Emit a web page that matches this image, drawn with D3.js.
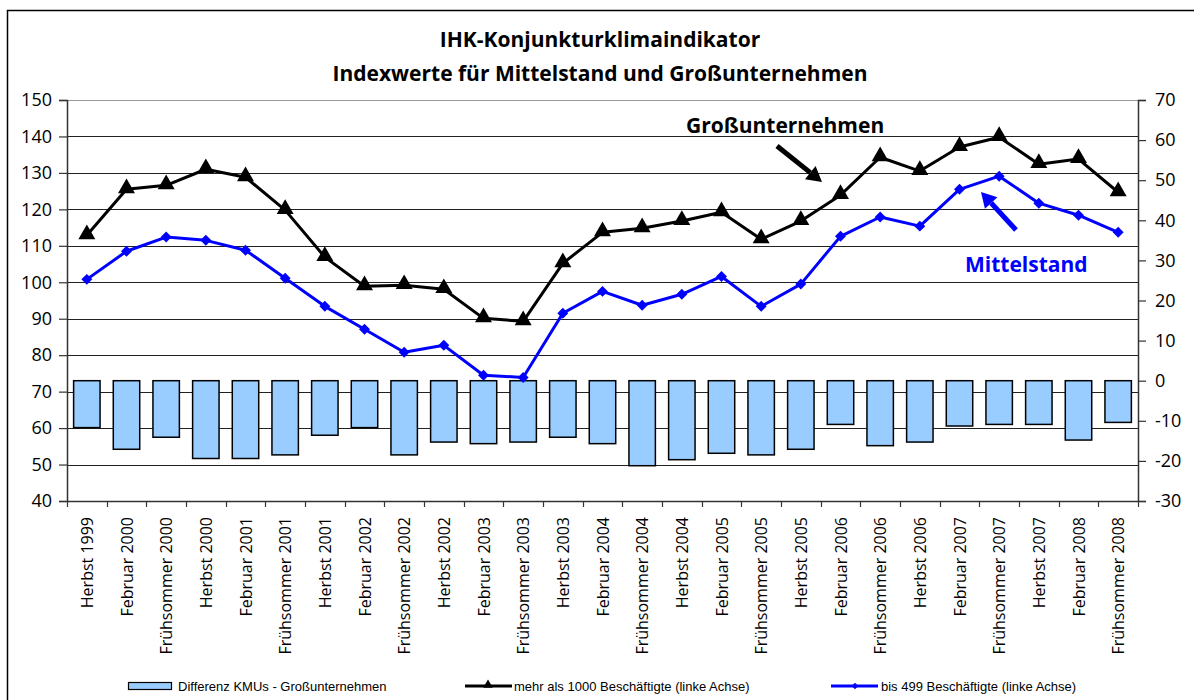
<!DOCTYPE html>
<html>
<head>
<meta charset="utf-8">
<script src="https://cdn.jsdelivr.net/npm/d3@7/dist/d3.min.js"></script>
<style>
  body { margin: 0; background: #fff; }
  svg { display: block; }
</style>
</head>
<body>
<div id="chart"></div>
<script>
// Chart data
const categories = [
  'Herbst 1999', 'Februar 2000', 'Frühsommer 2000', 'Herbst 2000', 'Februar 2001',
  'Frühsommer 2001', 'Herbst 2001', 'Februar 2002', 'Frühsommer 2002', 'Herbst 2002',
  'Februar 2003', 'Frühsommer 2003', 'Herbst 2003', 'Februar 2004', 'Frühsommer 2004',
  'Herbst 2004', 'Februar 2005', 'Frühsommer 2005', 'Herbst 2005', 'Februar 2006',
  'Frühsommer 2006', 'Herbst 2006', 'Februar 2007', 'Frühsommer 2007', 'Herbst 2007',
  'Februar 2008', 'Frühsommer 2008'
];

// mehr als 1000 Beschäftigte (linke Achse)
const grossValues = [
  112.9, 125.5, 126.6, 131.0, 128.8, 119.8, 106.9, 98.9, 99.2, 98.1,
  90.1, 89.3, 105.2, 113.7, 114.8, 116.8, 119.2, 111.8, 116.8, 123.9,
  134.3, 130.5, 137.1, 139.8, 132.4, 133.8, 124.7
];

// bis 499 Beschäftigte (linke Achse)
const mittelValues = [
  100.8, 108.5, 112.4, 111.5, 108.8, 101.1, 93.4, 87.1, 80.8, 82.7,
  74.5, 73.9, 91.5, 97.5, 93.7, 96.7, 101.6, 93.4, 99.5, 112.6,
  117.9, 115.4, 125.5, 129.1, 121.7, 118.4, 113.7
];

// Differenz KMUs - Großunternehmen (rechte Achse)
const diffValues = [
  -11.7, -17.1, -14.1, -19.4, -19.4, -18.5, -13.6, -11.7, -18.5, -15.3,
  -15.7, -15.3, -14.1, -15.7, -21.2, -19.7, -18.1, -18.5, -17.1, -10.9,
  -16.2, -15.3, -11.3, -10.9, -10.9, -14.8, -10.4
];

const leftTicks = d3.range(40, 151, 10);
const rightTicks = d3.range(-30, 71, 10);

const titleLines = ['IHK-Konjunkturklimaindikator', 'Indexwerte für Mittelstand und Großunternehmen'];
const legendLabels = [
  'Differenz KMUs - Großunternehmen',
  'mehr als 1000 Beschäftigte (linke Achse)',
  'bis 499 Beschäftigte (linke Achse)'
];

// Annotation labels with arrows
const annotations = [
  { text: 'Großunternehmen', color: '#000', x: 686, y: 133, from: [777, 146], to: [822, 182] },
  { text: 'Mittelstand', color: '#0000ff', x: 965, y: 272, from: [1016, 230], to: [981, 192] }
];

const width = 1194;
const height = 700;
const margin = { top: 100, right: 1194 - 1138, bottom: 700 - 501, left: 67 };
const innerW = width - margin.left - margin.right;
const innerH = height - margin.top - margin.bottom;

const uiFont = '"Open Sans", "DejaVu Sans", sans-serif';
const legendFont = '"Liberation Sans", Arial, sans-serif';

const svg = d3.select('#chart')
  .append('svg')
  .attr('width', width)
  .attr('height', height);

// Outer frame
svg.append('rect')
  .attr('x', 7.5)
  .attr('y', 10.5)
  .attr('width', 1300)
  .attr('height', 1000)
  .attr('fill', 'none')
  .attr('stroke', '#000')
  .attr('stroke-width', 1.5);

// Title
svg.selectAll('.title')
  .data(titleLines)
  .enter()
  .append('text')
  .attr('class', 'title')
  .attr('x', 600)
  .attr('y', (d, i) => 47 + i * 34)
  .attr('text-anchor', 'middle')
  .style('font-family', uiFont)
  .style('font-size', '21px')
  .style('font-weight', 'bold')
  .text(d => d);

const g = svg.append('g')
  .attr('transform', `translate(${margin.left},${margin.top})`);

// Scales
const x = d3.scaleBand()
  .domain(categories)
  .range([0, innerW])
  .paddingInner(1 / 3)
  .paddingOuter(1 / 6);

const xCenter = d => x(d) + x.bandwidth() / 2;
const step = x.step();

const yLeft = d3.scaleLinear().domain([40, 150]).range([innerH, 0]);
const yRight = d3.scaleLinear().domain([-30, 70]).range([innerH, 0]);

// Gridlines (left axis)
g.selectAll('.grid')
  .data(leftTicks.filter(t => t > 40))
  .enter()
  .append('line')
  .attr('class', 'grid')
  .attr('x1', 0)
  .attr('x2', innerW)
  .attr('y1', d => Math.round(yLeft(d)) + 0.5)
  .attr('y2', d => Math.round(yLeft(d)) + 0.5)
  .attr('stroke', d => d === 150 ? '#999' : '#222')
  .attr('stroke-width', 1);

// Bars (right axis)
g.selectAll('.bar')
  .data(diffValues)
  .enter()
  .append('rect')
  .attr('class', 'bar')
  .attr('x', (d, i) => x(categories[i]))
  .attr('width', x.bandwidth())
  .attr('y', d => yRight(Math.max(0, d)))
  .attr('height', d => Math.abs(yRight(d) - yRight(0)))
  .attr('fill', '#99ccff')
  .attr('stroke', '#000')
  .attr('stroke-width', 1.5);

// Left axis
const leftAxis = g.append('g')
  .call(d3.axisLeft(yLeft).tickValues(leftTicks).tickSize(8).tickPadding(7));

// Right axis
const rightAxis = g.append('g')
  .attr('transform', `translate(${innerW},0)`)
  .call(d3.axisRight(yRight).tickValues(rightTicks).tickSize(8).tickPadding(9)
    .tickFormat(d => String(d)));

[leftAxis, rightAxis].forEach(a => {
  a.select('.domain').attr('stroke', '#333').attr('stroke-width', 1.5);
  a.selectAll('.tick line').attr('stroke', '#333').attr('stroke-width', 1.2);
  a.selectAll('.tick text')
    .style('font-family', uiFont)
    .style('font-size', '18px')
    .attr('fill', '#000');
});

// Bottom axis with ticks at band boundaries
const bottom = g.append('g')
  .attr('transform', `translate(0,${innerH})`);

bottom.append('line')
  .attr('x1', 0).attr('x2', innerW)
  .attr('y1', 0.5).attr('y2', 0.5)
  .attr('stroke', '#333')
  .attr('stroke-width', 1.5);

bottom.selectAll('.xtick')
  .data(d3.range(categories.length + 1))
  .enter()
  .append('line')
  .attr('class', 'xtick')
  .attr('x1', i => Math.round(i * step) + 0.5)
  .attr('x2', i => Math.round(i * step) + 0.5)
  .attr('y1', 0)
  .attr('y2', 6)
  .attr('stroke', '#333')
  .attr('stroke-width', 1.2);

bottom.selectAll('.xlabel')
  .data(categories)
  .enter()
  .append('text')
  .attr('class', 'xlabel')
  .attr('transform', d => `translate(${xCenter(d) + 6},16) rotate(-90)`)
  .attr('text-anchor', 'end')
  .style('font-family', uiFont)
  .style('font-size', '16px')
  .text(d => d);

// Lines
const lineLeft = d3.line()
  .x((d, i) => xCenter(categories[i]))
  .y(d => yLeft(d));

g.append('path')
  .datum(grossValues)
  .attr('d', lineLeft)
  .attr('fill', 'none')
  .attr('stroke', '#000')
  .attr('stroke-width', 3)
  .attr('stroke-linejoin', 'round');

g.append('path')
  .datum(mittelValues)
  .attr('d', lineLeft)
  .attr('fill', 'none')
  .attr('stroke', '#0000ff')
  .attr('stroke-width', 3)
  .attr('stroke-linejoin', 'round');

const triangle = d3.symbol().type(d3.symbolTriangle).size(125);
const diamond = d3.symbol().type(d3.symbolSquare).size(60);

g.selectAll('.tri')
  .data(grossValues)
  .enter()
  .append('path')
  .attr('class', 'tri')
  .attr('d', triangle)
  .attr('transform', (d, i) => `translate(${xCenter(categories[i])},${yLeft(d) - 1})`)
  .attr('fill', '#000');

g.selectAll('.dia')
  .data(mittelValues)
  .enter()
  .append('path')
  .attr('class', 'dia')
  .attr('d', diamond)
  .attr('transform', (d, i) => `translate(${xCenter(categories[i])},${yLeft(d)}) rotate(45)`)
  .attr('fill', '#0000ff');

// Annotations with arrows
annotations.forEach(a => {
  svg.append('text')
    .attr('x', a.x)
    .attr('y', a.y)
    .style('font-family', uiFont)
    .style('font-size', '21px')
    .style('font-weight', 'bold')
    .attr('fill', a.color)
    .text(a.text);

  const dx = a.to[0] - a.from[0];
  const dy = a.to[1] - a.from[1];
  const len = Math.sqrt(dx * dx + dy * dy);
  const ux = dx / len, uy = dy / len;
  const headLen = 15, headW = 8.5;
  const bx = a.to[0] - ux * headLen, by = a.to[1] - uy * headLen;

  svg.append('line')
    .attr('x1', a.from[0]).attr('y1', a.from[1])
    .attr('x2', bx).attr('y2', by)
    .attr('stroke', a.color)
    .attr('stroke-width', 5);

  svg.append('path')
    .attr('d', `M${a.to[0]},${a.to[1]} L${bx - uy * headW},${by + ux * headW} L${bx + uy * headW},${by - ux * headW} Z`)
    .attr('fill', a.color);
});

// Legend
const legend = svg.append('g').attr('class', 'legend');
const legendY = 686;

legend.append('rect')
  .attr('x', 128.5).attr('y', legendY - 3.5)
  .attr('width', 43).attr('height', 7)
  .attr('fill', '#99ccff')
  .attr('stroke', '#000')
  .attr('stroke-width', 1.2);

legend.append('line')
  .attr('x1', 465).attr('x2', 512)
  .attr('y1', legendY).attr('y2', legendY)
  .attr('stroke', '#000').attr('stroke-width', 3);
legend.append('path')
  .attr('d', d3.symbol().type(d3.symbolTriangle).size(40))
  .attr('transform', `translate(488,${legendY - 1})`)
  .attr('fill', '#000');

legend.append('line')
  .attr('x1', 831).attr('x2', 878)
  .attr('y1', legendY).attr('y2', legendY)
  .attr('stroke', '#0000ff').attr('stroke-width', 3);
legend.append('path')
  .attr('d', d3.symbol().type(d3.symbolSquare).size(22))
  .attr('transform', `translate(855,${legendY}) rotate(45)`)
  .attr('fill', '#0000ff');

legend.selectAll('.ltext')
  .data(legendLabels)
  .enter()
  .append('text')
  .attr('class', 'ltext')
  .attr('x', (d, i) => [178, 514, 881][i])
  .attr('y', legendY + 4.5)
  .style('font-family', legendFont)
  .style('font-size', '13px')
  .text(d => d);
</script>
</body>
</html>
